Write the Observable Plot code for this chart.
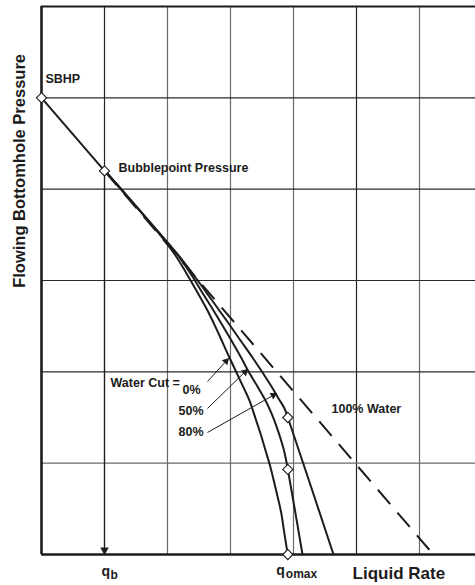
<!DOCTYPE html>
<html><head><meta charset="utf-8">
<script src="https://cdn.jsdelivr.net/npm/d3@7"></script>
<script src="https://cdn.jsdelivr.net/npm/@observablehq/plot@0.6"></script>
<style>body{margin:0;background:#fff} svg{display:block}</style>
</head><body><div id="chart"></div>
<script>
// Key values (grid units)
const sbhp = 5.0, pb = 4.2, qb = 1.0, qomax = 3.91, qWaterMax = 6.22;
const gridX = [0, 1, 2, 3, 4, 5, 6, 7];
const gridY = [0, 1, 2, 3, 4, 5, 6];

// Water cut = 0%
const wc0Q = [1.0,1.254,1.571,1.889,2.127,2.302,2.476,2.651,2.810,2.968,3.095,3.206,3.302,3.397,3.476,3.556,3.635,3.698,3.762,3.810,3.841,3.873,3.91];
const wc0P = [4.205,4.007,3.756,3.493,3.274,3.077,2.869,2.650,2.420,2.179,1.993,1.829,1.686,1.489,1.325,1.139,0.953,0.777,0.591,0.438,0.296,0.153,0];
// Water cut = 50%
const wc50Q = [1.0,1.254,1.571,1.889,2.143,2.365,2.571,2.778,2.968,3.159,3.286,3.429,3.556,3.651,3.730,3.794,3.857,3.91,4.143];
const wc50P = [4.205,4.007,3.756,3.504,3.296,3.077,2.847,2.617,2.398,2.168,2.004,1.839,1.686,1.544,1.402,1.270,1.117,0.931,0];
// Water cut = 80%
const wc80Q = [1.0,1.254,1.571,1.889,2.175,2.444,2.698,2.937,3.159,3.349,3.508,3.651,3.762,3.857,3.91,4.635];
const wc80P = [4.205,4.007,3.756,3.504,3.274,3.033,2.792,2.562,2.343,2.157,1.993,1.839,1.708,1.599,1.5,0];

// Marked points (diamonds)
const markQ = [0, qb, qomax, qomax, qomax];
const markP = [sbhp, pb, 1.5, 0.931, 0];

// Labels
const labelText = ["SBHP", "Bubblepoint Pressure", "Water Cut =", "0%", "50%", "80%", "100% Water"];
const labelQ = [0.063, 1.222, 1.095, 2.238, 2.175, 2.175, 4.603];
const labelP = [5.21, 4.237, 1.883, 1.796, 1.566, 1.336, 1.588];

// Water-cut pointer arrows: start (label side) -> tip (curve)
const ptrQ1 = [2.635, 2.635, 2.635];
const ptrP1 = [1.894, 1.599, 1.336];
const ptrQ2 = [2.968, 3.270, 3.730];
const ptrP2 = [2.146, 2.026, 1.763];

const xTitle = "Liquid Rate", yTitle = "Flowing Bottomhole Pressure";

// ---- build tables
const toRows = (qs, ps, s) => qs.map((q, i) => ({q, p: ps[i], s}));
const curves = [...toRows(wc0Q, wc0P, "0%"), ...toRows(wc50Q, wc50P, "50%"), ...toRows(wc80Q, wc80P, "80%")];
const marks = toRows(markQ, markP, "m");
const labels = labelText.map((t, i) => ({t, q: labelQ[i], p: labelP[i]}));

const xRange = [41, 482], yRange = [554, 6];
const kx = (xRange[1] - xRange[0]) / (gridX[gridX.length-1] - gridX[0]);
const ky = (yRange[0] - yRange[1]) / (gridY[gridY.length-1] - gridY[0]);

function heads(x1, y1, x2, y2, back) {
  return x1.map((_, i) => {
    const dxp = (x2[i] - x1[i]) * kx, dyp = -(y2[i] - y1[i]) * ky;
    const len = Math.hypot(dxp, dyp);
    const ux = dxp / len, uy = dyp / len;
    return {
      q: x2[i] - ux * back / kx,
      p: y2[i] + uy * back / ky,
      rot: Math.atan2(ux, -uy) * 180 / Math.PI
    };
  });
}
const ptrs = ptrQ1.map((_, i) => ({q1: ptrQ1[i], p1: ptrP1[i], q2: ptrQ2[i], p2: ptrP2[i]}));
const ptrHeads = heads(ptrQ1, ptrP1, ptrQ2, ptrP2, 3.6);
const qbHead = heads([qb], [pb], [qb], [0], 4.5);

const font = "'Liberation Sans', Arial, Helvetica, sans-serif";
const ink = "#1c1c1c";

const chart = Plot.plot({
  width: 475, height: 585,
  marginLeft: 41, marginTop: 6, marginBottom: 31, marginRight: 0,
  x: {domain: [gridX[0], gridX[gridX.length-1]], range: xRange, axis: null},
  y: {domain: [gridY[0], gridY[gridY.length-1]], range: yRange, axis: null},
  style: {fontFamily: font, background: "#fff", overflow: "visible"},
  marks: [
    Plot.ruleX(gridX.slice(1), {y1: 0, y2: 6, stroke: d => (d === 1 || d === 5) ? "#222" : "#6a6a6a", strokeWidth: 1.2}),
    Plot.ruleY(gridY.slice(1, -1), {x1: 0, x2: 7, stroke: d => (d === 1) ? "#6a6a6a" : "#2a2a2a", strokeWidth: 1.2}),
    // frame
    Plot.ruleX([0], {y1: 0, y2: 6, stroke: ink, strokeWidth: 2.6}),
    Plot.ruleY([0], {x1: 0, x2: 7, stroke: ink, strokeWidth: 2.6}),
    Plot.ruleY([6], {x1: 0, x2: 7, stroke: ink, strokeWidth: 2.2}),
    // 100% water straight line (dashed)
    Plot.link([{q1: qb, p1: pb, q2: qWaterMax, p2: 0}], {x1: "q1", y1: "p1", x2: "q2", y2: "p2", stroke: ink, strokeWidth: 2, strokeDasharray: "19,11"}),
    // SBHP to bubblepoint line
    Plot.link([{q1: 0, p1: sbhp, q2: qb, p2: pb}], {x1: "q1", y1: "p1", x2: "q2", y2: "p2", stroke: ink, strokeWidth: 2}),
    // IPR curves
    Plot.line(curves, {x: "q", y: "p", z: "s", curve: "catmull-rom", stroke: ink, strokeWidth: 2}),
    // qb arrow
    Plot.link([{q1: qb, p1: pb, q2: qb, p2: 0}], {x1: "q1", y1: "p1", x2: "q2", y2: "p2", stroke: ink, strokeWidth: 1.2}),
    Plot.dot(qbHead, {x: "q", y: "p", rotate: "rot", symbol: "triangle", r: 3.2, fill: ink, stroke: "none"}),
    // water-cut pointers
    Plot.link(ptrs, {x1: "q1", y1: "p1", x2: "q2", y2: "p2", stroke: ink, strokeWidth: 1}),
    Plot.dot(ptrHeads, {x: "q", y: "p", rotate: "rot", symbol: "triangle", r: 2.8, fill: ink, stroke: "none"}),
    // diamonds
    Plot.dot(marks, {x: "q", y: "p", symbol: "diamond2", r: 4.6, fill: "#fff", stroke: ink, strokeWidth: 1.1}),
    // labels
    Plot.text(labels, {x: "q", y: "p", text: "t", textAnchor: "start", fontSize: 12.5, fontWeight: "bold", fill: ink}),
    // axis titles
    Plot.text([xTitle], {x: 4.937, y: 0, dy: 19, text: d => d, textAnchor: "start", fontSize: 17, fontWeight: "bold", fill: ink}),
    Plot.text([yTitle], {x: 0, y: 4.2, dx: -22, rotate: -90, text: d => d, textAnchor: "middle", fontSize: 16.5, fontWeight: "bold", fill: ink}),
    // q_b and q_omax
    Plot.text(["q"], {x: qb, y: 0, dx: -3, dy: 17, text: d => d, textAnchor: "start", fontSize: 14, fontWeight: "bold", fill: ink}),
    Plot.text(["b"], {x: qb, y: 0, dx: 6, dy: 21, text: d => d, textAnchor: "start", fontSize: 12, fontWeight: "bold", fill: ink}),
    Plot.text(["q"], {x: qomax, y: 0, dx: -11.5, dy: 16, text: d => d, textAnchor: "start", fontSize: 14, fontWeight: "bold", fill: ink}),
    Plot.text(["omax"], {x: qomax, y: 0, dx: -2, dy: 20, text: d => d, textAnchor: "start", fontSize: 12, fontWeight: "bold", fill: ink})
  ]
});
document.getElementById("chart").appendChild(chart);
</script>
</body></html>
